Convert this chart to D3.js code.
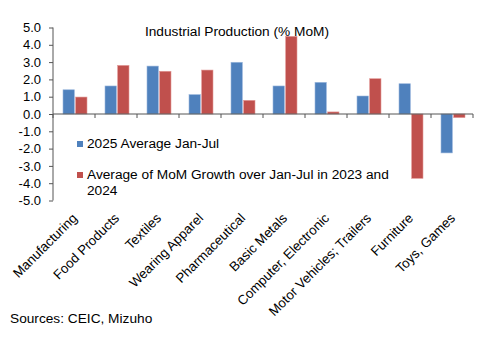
<!DOCTYPE html>
<html>
<head>
<meta charset="utf-8">
<script src="https://cdn.jsdelivr.net/npm/d3@7"></script>
<style>
  body { margin: 0; background: #fff; }
  svg { display: block; font-family: "Liberation Sans", Arial, sans-serif; }
</style>
</head>
<body>
<svg id="chart" width="492" height="340"></svg>
<script>
// categories and series
var categories = ["Manufacturing", "Food Products", "Textiles", "Wearing Apparel", "Pharmaceutical",
  "Basic Metals", "Computer, Electronic", "Motor Vehicles; Trailers", "Furniture", "Toys, Games"];
var avg2025 = [1.40, 1.62, 2.77, 1.12, 2.99, 1.62, 1.83, 1.04, 1.75, -2.25];
var avg2324 = [0.98, 2.81, 2.47, 2.54, 0.79, 4.49, 0.12, 2.04, -3.72, -0.21];
var seriesNames = ["2025 Average Jan-Jul", "Average of MoM Growth over Jan-Jul in 2023 and 2024"];
var yTicks = [5, 4, 3, 2, 1, 0, -1, -2, -3, -4, -5];

var svg = d3.select("#chart");

var x = d3.scaleBand().domain(categories).range([53, 473]);
var y = d3.scaleLinear().domain([-5, 5]).range([200.5, 27.5]);
var inner = d3.scaleBand().domain([0, 1]).range([10, 34]).paddingInner(0.1);
var colors = ["#4F81BD", "#C0504D"];
var edges = ["#9bb7dc", "#e39a98"];

// bars
[avg2025, avg2324].forEach(function(vals, s) {
  svg.append("g").selectAll("rect")
    .data(vals)
    .join("rect")
    .attr("x", function(d, i) { return x(categories[i]) + inner(s); })
    .attr("y", function(d) { return y(Math.max(0, d)); })
    .attr("width", inner.bandwidth())
    .attr("height", function(d) { return Math.abs(y(d) - y(0)); })
    .attr("fill", colors[s])
    .attr("stroke", edges[s])
    .attr("stroke-width", 0.6);
});

// y axis
var yAxis = svg.append("g")
  .attr("transform", "translate(53,0)")
  .call(d3.axisLeft(y).tickValues(yTicks).tickFormat(d3.format(".1f")).tickSize(4).tickPadding(8));
yAxis.select(".domain").attr("stroke", "#555").attr("d", "M0," + y(5) + "V" + y(-5));
yAxis.selectAll(".tick line").attr("stroke", "#555");
yAxis.selectAll(".tick text").attr("font-size", 13).attr("fill", "#000")
  .text(function(d) { return d3.format(".1f")(d).replace("−", "-"); });

// x axis at zero
var xAxis = svg.append("g")
  .attr("transform", "translate(0," + y(0) + ")")
  .call(d3.axisBottom(x).tickSize(4).tickFormat(""));
xAxis.select(".domain").attr("stroke", "#555").attr("d", "M53,0H473");
xAxis.selectAll(".tick line").attr("stroke", "#555")
  .attr("transform", "translate(" + (x.bandwidth() / 2) + ",0)");
// extra tick at the start
xAxis.append("line").attr("x1", 53).attr("x2", 53).attr("y1", 0).attr("y2", 4).attr("stroke", "#555");

// category labels, rotated
svg.append("g").selectAll("text")
  .data(categories)
  .join("text")
  .attr("transform", function(d) {
    return "translate(" + (x(d) + x.bandwidth() / 2 + 4) + ",219) rotate(-45)";
  })
  .attr("text-anchor", "end")
  .attr("font-size", 13.3)
  .attr("fill", "#000")
  .text(function(d) { return d; });

// title
svg.append("text")
  .attr("x", 237).attr("y", 36)
  .attr("text-anchor", "middle")
  .attr("font-size", 13.7)
  .text("Industrial Production (% MoM)");

// legend
var legend = svg.append("g").attr("font-size", 13.7);
legend.append("rect").attr("x", 77).attr("y", 141).attr("width", 6).attr("height", 6).attr("fill", colors[0]);
legend.append("text").attr("x", 87).attr("y", 148).text(seriesNames[0]);
legend.append("rect").attr("x", 77).attr("y", 172).attr("width", 6).attr("height", 6).attr("fill", colors[1]);
legend.append("text").attr("x", 87).attr("y", 179)
  .text("Average of MoM Growth over Jan-Jul in 2023 and");
legend.append("text").attr("x", 87).attr("y", 195).text("2024");

// source
svg.append("text").attr("x", 10).attr("y", 323).attr("font-size", 13.7).text("Sources: CEIC, Mizuho");
</script>
</body>
</html>
